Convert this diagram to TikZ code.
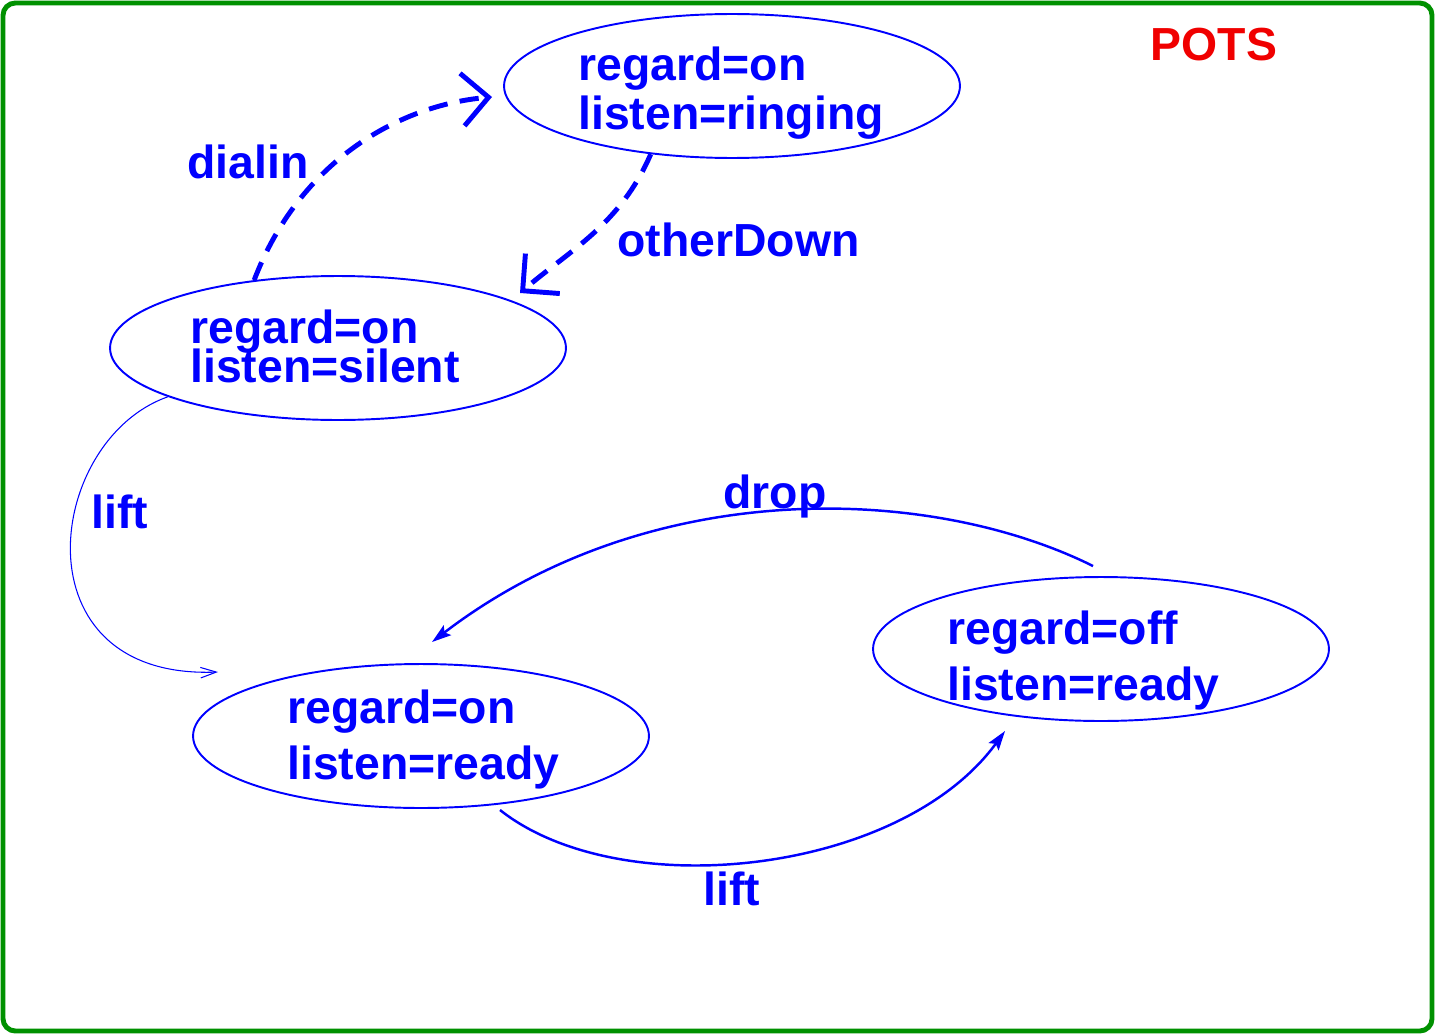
\documentclass[tikz,border=0pt]{standalone}
\usepackage{fontspec}
\setmainfont{Liberation Sans}
\usetikzlibrary{shapes.geometric,arrows.meta,calc}
\definecolor{pblue}{RGB}{0,0,255}
\definecolor{pgreen}{RGB}{0,145,0}
\definecolor{pred}{RGB}{240,0,0}
\tikzset{
  state/.style={draw=pblue, line width=1.1pt, ellipse, minimum width=9.12cm, minimum height=2.88cm, inner sep=0pt},
  txt/.style={text=pblue, font=\fontsize{26.4}{30}\selectfont\bfseries, inner sep=0pt, anchor=base west},
  lbl/.style={text=pblue, font=\fontsize{26.4}{30}\selectfont\bfseries, inner sep=0pt, anchor=base},
  dasharr/.style={draw=pblue, line width=2.8pt, dash pattern=on 11pt off 7pt,
    -{Straight Barb[length=15pt,width=30pt,line width=2.8pt]}},
  thinarr/.style={draw=pblue, line width=0.6pt, -{Straight Barb[length=9pt,width=6pt,line width=0.6pt]}},
  midarr/.style={draw=pblue, line width=1.4pt, -{Stealth[length=11pt,width=7pt,inset=2pt]}}
}
\begin{document}
\begin{tikzpicture}[x=0.02cm,y=-0.02cm]
\useasboundingbox (0,0) rectangle (1435,1034);
\draw[draw=pgreen, line width=2.8pt, rounded corners=7pt] (3,3) rectangle (1432,1031);
\node[text=pred, font=\fontsize{26.4}{30}\selectfont\bfseries, inner sep=0pt, anchor=base] (pots) at (1214,61) {POTS};

% states
\node[state] (s1) at (732,86) {};
\node[state] (s2) at (338,348) {};
\node[state] (s3) at (421,736) {};
\node[state] (s4) at (1101,649) {};

\node[txt] (s1a) at (578,81) {regard=on};
\node[txt] (s1b) at (578,129) {listen=ringing};
\node[txt] (s2a) at (190,343) {regard=on};
\node[txt] (s2b) at (190,382) {listen=silent};
\node[txt] (s3a) at (287,723) {regard=on};
\node[txt] (s3b) at (287,779) {listen=ready};
\node[txt] (s4a) at (947,644) {regard=off};
\node[txt] (s4b) at (947,700) {listen=ready};

% connector endpoints
\coordinate (dEnd) at (492,97);
\coordinate (oEnd) at (520,293);
\coordinate (lEnd) at (218,672);
\coordinate (drStart) at (1093,566);
\coordinate (drEnd) at (432,642);
\coordinate (lbStart) at (500,810);
\coordinate (lbEnd) at (1005,731);

% connectors
\draw[dasharr] (s2.141) .. controls (300,160) and (400,105) .. (dEnd);
\draw[dasharr] (s1.220) .. controls (620,225) and (570,250) .. (oEnd);
\draw[thinarr] (s2.196) .. controls (45,440) and (15,680) .. (lEnd);
\draw[midarr] (drStart) .. controls (930,485) and (650,475) .. (drEnd);
\draw[midarr] (lbStart) .. controls (620,905) and (900,875) .. (lbEnd);

% labels
\node[lbl] (ldialin) at (248,178) {dialin};
\node[txt] (lother) at (617,256) {otherDown};
\node[lbl] (llift1) at (120,528) {lift};
\node[lbl] (ldrop) at (775,508) {drop};
\node[lbl] (llift2) at (732,905) {lift};
\end{tikzpicture}
\end{document}
